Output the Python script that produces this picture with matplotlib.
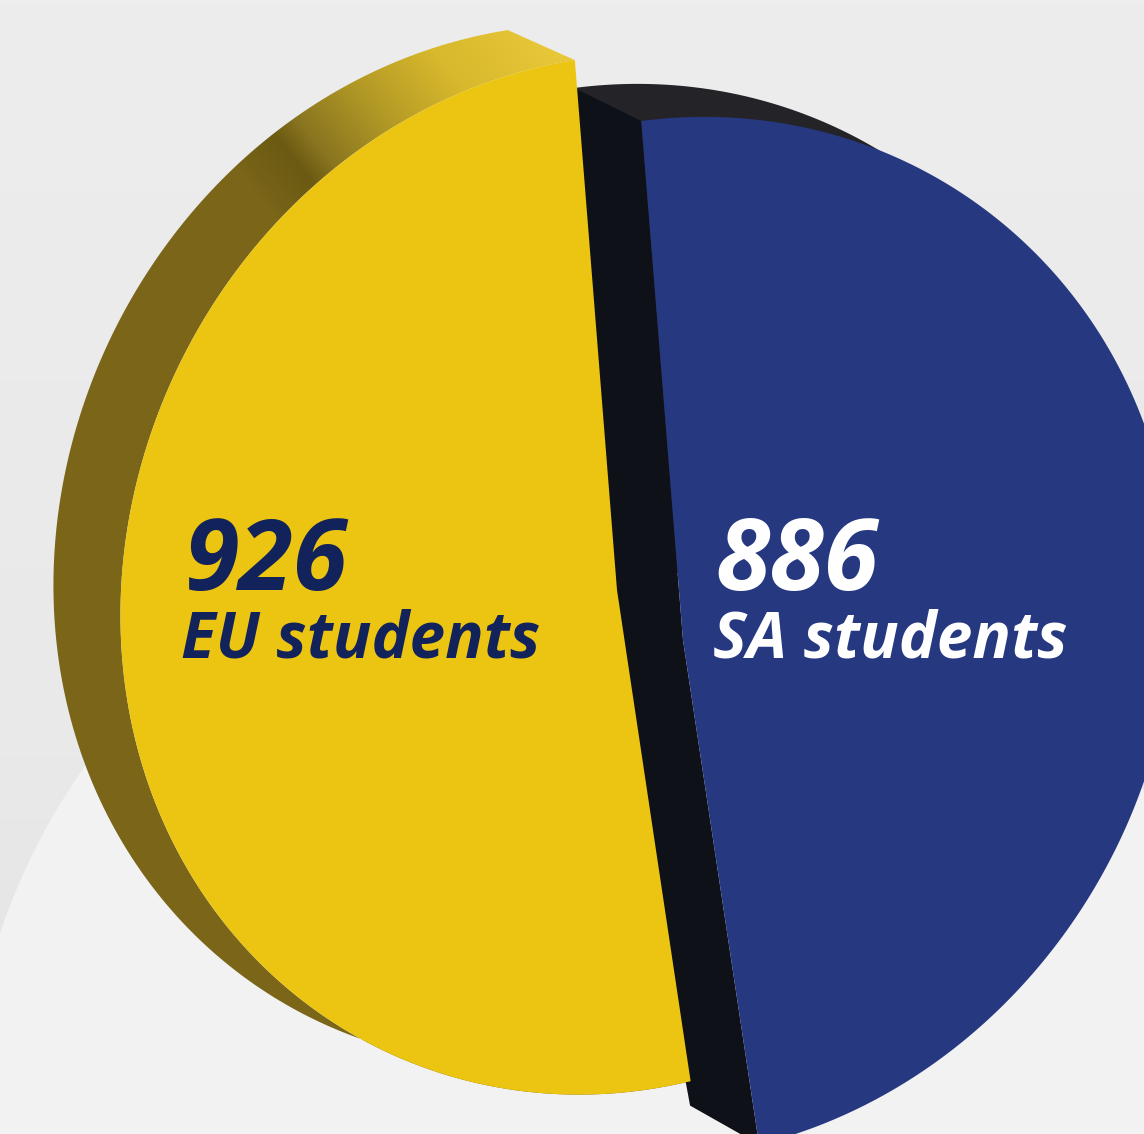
import matplotlib
matplotlib.use('Agg')
import matplotlib.pyplot as plt
from matplotlib.patches import Polygon, Circle
from matplotlib.colors import to_rgb
from matplotlib.colors import LinearSegmentedColormap
import numpy as np

# chart values
labels = ['EU students', 'SA students']
students = [926, 886]
text_colors = ['#12225A', '#FFFFFF']

# each half gets its share of 360 degrees, measured from the cut
sweeps = [v / sum(students) * 360 for v in students]
eu_start = 94.55
sa_start = 94.6

# the halves are not true circles in the perspective, radius read per angle
eu_angle = [94.5, 102.5, 109.5, 123.5, 133.4, 142.3, 150.3, 160.2, 179, 186.9, 194.9, 200.8, 212.7, 226.6, 236.5, 245.5, 269.4, 278.5]
eu_radius = [529, 529, 521, 506, 500, 494, 491, 494, 498, 501, 504, 503, 511, 514, 519, 517, 505, 495]
sa_angle = [-82, -78, -71, -62, -50, -38, -27, -17, 25, 30, 37, 44, 51, 60, 71, 79, 86, 95]
sa_radius = [515, 505, 498, 493, 489, 483, 480, 481, 509, 513, 517, 522, 525, 526, 528, 527, 524, 520]


def harmonics(t):
    t = np.radians(t)
    return np.column_stack([np.ones_like(t), np.cos(t), np.sin(t), np.cos(2 * t), np.sin(2 * t)])


def outline(center, angles, radii, t1, t2):
    # smooth curve through the radii, then walk along the rim
    coef = np.linalg.lstsq(harmonics(np.array(angles, float)), np.array(radii, float), rcond=None)[0]
    t = np.linspace(t1, t2, 400)
    r = harmonics(t) @ coef
    return np.column_stack([center[0] + r * np.cos(np.radians(t)), center[1] - r * np.sin(np.radians(t))])


fig = plt.figure(figsize=(11.44, 11.34), dpi=100)
ax = fig.add_axes([0, 0, 1, 1])

# background, grey page with a lighter big circle
grey = LinearSegmentedColormap.from_list('grey', ['#ededed', '#ebebeb', '#e9e9e9', '#e3e3e3'])
ax.imshow(np.linspace(0, 1, 256).reshape(-1, 1), cmap=grey, extent=(0, 1144, 1134, 0), aspect='auto', zorder=0)
ax.add_patch(Circle((606, 1136), 639, fc='#f2f2f2', ec='none', zorder=1))

# yellow half
eu_center = (617, 590)
eu_shift = (-67, -30)
eu_rim = outline(eu_center, eu_angle, eu_radius, eu_start, eu_start + sweeps[0])
eu_face = np.vstack([eu_rim, [eu_center]])
eu_side = np.vstack([eu_rim + eu_shift, eu_rim[::-1]])

# side shading: flat olive, dark patch then a highlight towards the cut
xx, yy = np.meshgrid(np.arange(1144), np.arange(1134))
v = xx - (yy - 160) * 0.8
stops_v = [230, 295, 330, 420, 520, 640]
stops_c = [to_rgb(c) for c in ['#7a6519', '#6b5a12', '#8a7520', '#b39a26', '#d8b82c', '#e8c838']]
shade = np.dstack([np.interp(v, stops_v, [c[i] for c in stops_c]) for i in range(3)])
im = ax.imshow(shade, extent=(0, 1144, 1134, 0), aspect='auto', zorder=4)
clip = Polygon(eu_side, transform=ax.transData, fc='none', ec='none')
ax.add_patch(clip)
im.set_clip_path(clip)

# blue half
sa_center = (683, 640)
sa_shift = (-67, -33)
sa_rim = outline(sa_center, sa_angle, sa_radius, sa_start, sa_start - sweeps[1])
sa_face = np.vstack([sa_rim, [sa_center]])
# back edge only shows above the face
ax.add_patch(Polygon(np.vstack([sa_rim[:150], [sa_center]]) + sa_shift, fc='#232328', ec='none', zorder=2))
# cut wall, its left side runs on under the yellow face
cut_wall = np.array([sa_rim[0], sa_rim[0] + sa_shift, np.array(sa_center) + (-85, -33),
                     sa_rim[-1] + (-69, -39), sa_rim[-1], sa_center])
ax.add_patch(Polygon(cut_wall, fc='#0f1119', ec='none', zorder=3))
ax.add_patch(Polygon(sa_face, fc='#263880', ec='none', zorder=5))

ax.add_patch(Polygon(eu_face, fc='#ecc512', ec='none', zorder=6))

# labels
font = dict(family='Open Sans', style='italic', weight='bold', va='baseline', zorder=7)
ax.text(185, 590, str(students[0]), color=text_colors[0], fontsize=71, **font)
ax.text(181, 658, labels[0], color=text_colors[0], fontsize=46, **font)
ax.text(715, 590, str(students[1]), color=text_colors[1], fontsize=71, **font)
ax.text(713, 658, labels[1], color=text_colors[1], fontsize=46, **font)

ax.set_xlim(0, 1144)
ax.set_ylim(1134, 0)
ax.axis('off')
fig.savefig('out.png', dpi=100)
